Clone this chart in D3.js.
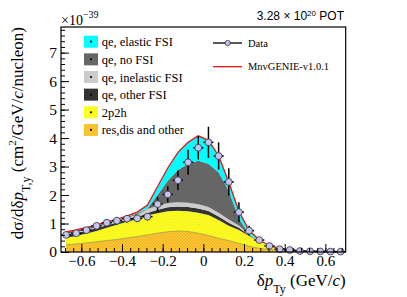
<!DOCTYPE html>
<html>
<head>
<meta charset="utf-8">
<script src="https://cdn.jsdelivr.net/npm/d3@7"></script>
<style>
body { margin: 0; background: #fff; }
svg { display: block; }
</style>
</head>
<body>
<div id="chart"></div>
<script>
// bin centres of delta p_Ty (GeV/c), 0.05 wide bins
const binCenters = [-0.675, -0.625, -0.575, -0.525, -0.475, -0.425, -0.375, -0.325, -0.275, -0.225,
                    -0.175, -0.125, -0.075, -0.025, 0.025, 0.075, 0.125, 0.175, 0.225, 0.275,
                    0.325, 0.375, 0.425, 0.475, 0.525, 0.575, 0.625, 0.675];

// data points (x1e-39)
const dataValues = [0.60, 0.66, 0.77, 0.92, 1.03, 1.10, 1.17, 1.18, 1.24, 1.68,
                    2.02, 2.52, 3.15, 3.66, 3.85, 3.37, 2.46, 1.40, 0.75, 0.42,
                    0.21, 0.10, 0.07, 0.035, 0.025, 0.02, 0.015, 0.012];
const dataErrors = [0.10, 0.10, 0.10, 0.11, 0.12, 0.13, 0.13, 0.13, 0.13, 0.26,
                    0.29, 0.34, 0.44, 0.41, 0.55, 0.48, 0.48, 0.35, 0.17, 0.10,
                    0.07, 0.05, 0.04, 0.03, 0.03, 0.05, 0.03, 0.02];

// MC components, bottom to top of the stack
const resDisOther = [0.25, 0.28, 0.32, 0.36, 0.40, 0.44, 0.49, 0.54, 0.60, 0.66,
                     0.71, 0.74, 0.72, 0.66, 0.58, 0.48, 0.40, 0.30, 0.20, 0.13,
                     0.08, 0.05, 0.03, 0.02, 0.012, 0.008, 0.005, 0.003];
const twoP2h = [0.25, 0.28, 0.33, 0.38, 0.45, 0.52, 0.57, 0.61, 0.69, 0.70,
                0.72, 0.71, 0.71, 0.72, 0.72, 0.64, 0.52, 0.47, 0.36, 0.24,
                0.12, 0.065, 0.04, 0.025, 0.018, 0.012, 0.009, 0.007];
const qeOtherFsi = [0.10, 0.10, 0.10, 0.10, 0.09, 0.08, 0.08, 0.07, 0.08, 0.12,
                    0.14, 0.15, 0.15, 0.15, 0.14, 0.13, 0.11, 0.08, 0.03, 0.01,
                    0.005, 0.003, 0.002, 0, 0, 0, 0, 0];
const qeInelasticFsi = [0.03, 0.03, 0.035, 0.04, 0.04, 0.05, 0.06, 0.10, 0.14, 0.14,
                        0.15, 0.15, 0.15, 0.15, 0.14, 0.13, 0.11, 0.08, 0.02, 0.01,
                        0.005, 0, 0, 0, 0, 0, 0, 0];
const qeNoFsi = [0.06, 0.07, 0.055, 0.05, 0.04, 0.03, 0.03, 0.04, 0.02, 0.38,
                 0.78, 1.13, 1.37, 1.52, 1.52, 1.42, 1.01, 0.24, 0.01, 0,
                 0, 0, 0, 0, 0, 0, 0, 0];
const qeElasticFsi = [0.02, 0.02, 0.02, 0.02, 0.03, 0.03, 0.04, 0.04, 0.12, 0.30,
                      0.45, 0.62, 0.75, 0.88, 0.82, 0.58, 0.30, 0.25, 0.14, 0.03,
                      0.01, 0.005, 0, 0, 0, 0, 0, 0];

const xTicks = [-0.6, -0.4, -0.2, 0, 0.2, 0.4, 0.6];
const yTicks = [0, 1, 2, 3, 4, 5, 6, 7];

var W = 407, H = 297;
var margin = {top: 27, right: 61, bottom: 45, left: 61};
var width = 345.7 - margin.left, height = 252 - margin.top;
var serif = "'Liberation Serif', 'Times New Roman', serif";

var svg = d3.select("#chart").append("svg")
    .attr("width", W).attr("height", H);

// hatch patterns for 2p2h and res
var defs = svg.append("defs");
function hatch(id, bg, fg) {
    var p = defs.append("pattern").attr("id", id)
        .attr("width", 3).attr("height", 3)
        .attr("patternUnits", "userSpaceOnUse");
    p.append("rect").attr("width", 3).attr("height", 3).attr("fill", bg);
    p.append("path").attr("d", "M0,0L3,3M3,0L0,3")
        .attr("stroke", fg).attr("stroke-width", 0.5);
}
hatch("hatchRes", "#ffc82e", "#e9a92a");
hatch("hatch2p2h", "#ffff1a", "#e8e830");

var series = [
    {key: "res", label: "res,dis and other", values: resDisOther, fill: "url(#hatchRes)", box: "#f9c330"},
    {key: "p2h", label: "2p2h", values: twoP2h, fill: "url(#hatch2p2h)", box: "#ffff20"},
    {key: "other", label: "qe, other FSI", values: qeOtherFsi, fill: "#333333", box: "#333333"},
    {key: "inel", label: "qe, inelastic FSI", values: qeInelasticFsi, fill: "#cccccc", box: "#cccccc"},
    {key: "nofsi", label: "qe, no FSI", values: qeNoFsi, fill: "#666666", box: "#666666"},
    {key: "elastic", label: "qe, elastic FSI", values: qeElasticFsi, fill: "#00ffff", box: "#00ffff"}
];

var table = binCenters.map(function(x, i) {
    var row = {x: x};
    series.forEach(function(s) { row[s.key] = s.values[i]; });
    return row;
});
var stacked = d3.stack().keys(series.map(function(s) { return s.key; }))(table);

var g = svg.append("g").attr("transform", "translate(" + margin.left + "," + margin.top + ")");

var x = d3.scaleLinear().domain([-0.7, 0.7]).range([0, width]);
var y = d3.scaleLinear().domain([0, 7.9]).range([height, 0]);

var area = d3.area()
    .x(function(d) { return x(d.data.x); })
    .y0(function(d) { return y(d[0]); })
    .y1(function(d) { return y(d[1]); });

g.append("g").selectAll("path")
    .data(stacked)
    .join("path")
    .attr("fill", function(d, i) { return series[i].fill; })
    .attr("d", area);

// thin border between res and 2p2h
g.append("path")
    .datum(stacked[0])
    .attr("fill", "none")
    .attr("stroke", "#9a9a3a")
    .attr("stroke-width", 0.8)
    .attr("d", d3.line().x(function(d) { return x(d.data.x); }).y(function(d) { return y(d[1]); }));

// total MC
g.append("path")
    .datum(stacked[stacked.length - 1])
    .attr("fill", "none")
    .attr("stroke", "#ee1111")
    .attr("stroke-width", 1.3)
    .attr("d", d3.line().x(function(d) { return x(d.data.x); }).y(function(d) { return y(d[1]); }));

// data with error bars
var pts = g.append("g").selectAll("g")
    .data(binCenters.map(function(c, i) { return {x: c, v: dataValues[i], e: dataErrors[i]}; }))
    .join("g");
pts.append("line")
    .attr("x1", function(d) { return x(d.x); }).attr("x2", function(d) { return x(d.x); })
    .attr("y1", function(d) { return y(d.v - d.e); }).attr("y2", function(d) { return y(d.v + d.e); })
    .attr("stroke", "#000").attr("stroke-width", 1.5);
pts.append("line")
    .attr("x1", function(d) { return x(d.x - 0.025); }).attr("x2", function(d) { return x(d.x + 0.025); })
    .attr("y1", function(d) { return y(d.v); }).attr("y2", function(d) { return y(d.v); })
    .attr("stroke", "#000").attr("stroke-width", 1.5);
pts.append("circle")
    .attr("cx", function(d) { return x(d.x); })
    .attr("cy", function(d) { return y(d.v); })
    .attr("r", 3.4)
    .attr("fill", "#c4c4f2")
    .attr("stroke", "#333").attr("stroke-width", 0.8);

// axes, ticks inside
var xMinor = d3.range(-0.68, 0.7, 0.04);
var yMinor = d3.range(0, 7.9, 0.2);

g.append("g").attr("transform", "translate(0," + height + ")")
    .call(d3.axisBottom(x).tickValues(xMinor).tickSize(-4).tickFormat(""))
    .call(function(a) { a.select(".domain").remove(); });
var xAxis = g.append("g").attr("transform", "translate(0," + height + ")")
    .call(d3.axisBottom(x).tickValues(xTicks).tickSizeInner(-8).tickSizeOuter(0).tickPadding(3.5)
        .tickFormat(function(d) { return d === 0 ? "0" : d3.format(".1f")(d).replace("-", "\u2212"); }));
xAxis.select(".domain").remove();
xAxis.selectAll("text").attr("font-family", serif).attr("font-size", "15px").attr("fill", "#000");

g.append("g")
    .call(d3.axisLeft(y).tickValues(yMinor).tickSize(-4).tickFormat(""))
    .call(function(a) { a.select(".domain").remove(); });
var yAxis = g.append("g")
    .call(d3.axisLeft(y).tickValues(yTicks).tickSizeInner(-8).tickSizeOuter(0).tickPadding(4));
yAxis.select(".domain").remove();
yAxis.selectAll("text").attr("font-family", serif).attr("font-size", "15.5px").attr("fill", "#000");
g.selectAll(".tick line").attr("stroke", "#000");

g.append("rect")
    .attr("width", width).attr("height", height)
    .attr("fill", "none").attr("stroke", "#000").attr("stroke-width", 1.2);

// x10^-39
var expo = svg.append("text").attr("x", 61).attr("y", 25)
    .attr("font-family", serif).attr("font-size", "14px");
expo.append("tspan").text("\u00d710");
expo.append("tspan").attr("dy", -7).attr("font-size", "10px").text("\u221239");

// POT
var pot = svg.append("text").attr("x", 344).attr("y", 20).attr("text-anchor", "end")
    .attr("font-family", "'Liberation Sans', Arial, sans-serif").attr("font-size", "12px");
pot.append("tspan").text("3.28 \u00d7 10");
pot.append("tspan").attr("dy", -4).attr("font-size", "8px").text("20");
pot.append("tspan").attr("dy", 4).text(" POT");

// axis titles
var xt = svg.append("text").attr("x", 345.7).attr("y", 285.5).attr("text-anchor", "end")
    .attr("font-family", serif).attr("font-size", "17px");
xt.append("tspan").text("\u03b4");
xt.append("tspan").attr("font-style", "italic").text("p");
xt.append("tspan").attr("dy", 7).attr("font-size", "12px").text("Ty");
xt.append("tspan").attr("dy", -7).text(" (GeV/");
xt.append("tspan").attr("font-style", "italic").text("c");
xt.append("tspan").text(")");

var yt = svg.append("text").attr("transform", "translate(23,27) rotate(-90)")
    .attr("text-anchor", "end").attr("font-family", serif).attr("font-size", "17px");
yt.append("tspan").text("d\u03c3/d\u03b4");
yt.append("tspan").attr("font-style", "italic").text("p");
yt.append("tspan").attr("dy", 7).attr("font-size", "12px").text("T,y");
yt.append("tspan").attr("dy", -7).text(" (cm");
yt.append("tspan").attr("dy", -7).attr("font-size", "11px").text("2");
yt.append("tspan").attr("dy", 7).text("/GeV/");
yt.append("tspan").attr("font-style", "italic").text("c");
yt.append("tspan").text("/nucleon)");

// left legend (top to bottom)
var legendItems = series.slice().reverse();
var leg = svg.append("g").selectAll("g")
    .data(legendItems)
    .join("g")
    .attr("transform", function(d, i) { return "translate(84," + (41.7 + i * 17.65) + ")"; });
leg.append("rect").attr("x", 0).attr("y", -6).attr("width", 14).attr("height", 12)
    .attr("fill", function(d) { return d.box; });
leg.append("circle").attr("cx", 7).attr("cy", 0).attr("r", 1.1).attr("fill", "#000");
leg.append("text").attr("x", 17.7).attr("y", 4.5)
    .attr("font-family", serif).attr("font-size", "12.5px")
    .text(function(d) { return d.label; });

// right legend
var leg2 = svg.append("g");
leg2.append("line").attr("x1", 213).attr("x2", 242).attr("y1", 43).attr("y2", 43)
    .attr("stroke", "#000").attr("stroke-width", 1.3);
leg2.append("circle").attr("cx", 227.7).attr("cy", 43).attr("r", 2.6)
    .attr("fill", "#c4c4f2").attr("stroke", "#333").attr("stroke-width", 0.8);
leg2.append("text").attr("x", 248).attr("y", 46.5).attr("font-family", serif).attr("font-size", "10.5px").text("Data");
leg2.append("line").attr("x1", 213).attr("x2", 242).attr("y1", 66.7).attr("y2", 66.7)
    .attr("stroke", "#ee1111").attr("stroke-width", 1.3);
leg2.append("text").attr("x", 248).attr("y", 70.2).attr("font-family", serif).attr("font-size", "10.5px").text("MnvGENIE-v1.0.1");
</script>
</body>
</html>
